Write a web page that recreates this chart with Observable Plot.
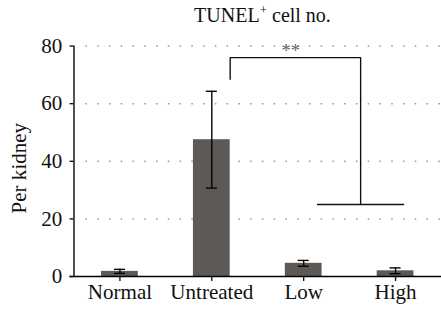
<!DOCTYPE html>
<html><head><meta charset="utf-8">
<script src="https://cdn.jsdelivr.net/npm/d3@7"></script>
<script src="https://cdn.jsdelivr.net/npm/@observablehq/plot@0.6"></script>
<style>
html,body{margin:0;padding:0;overflow:hidden;background:#fff;}
#wrap{position:relative;width:441px;height:317px;overflow:hidden;}
#wrap svg{position:absolute;left:0;top:0;}
#wrap svg text{font-family:"Liberation Serif",serif !important;}
#title{position:absolute;left:75px;width:375px;top:2px;text-align:center;font:20px "Liberation Serif",serif;color:#111;z-index:2;}
#title sup{font-size:13px;}
</style></head><body>
<div id="wrap"><div id="title">TUNEL<sup>+</sup> cell no.</div></div>
<script>
const groups = ["Normal", "Untreated", "Low", "High"];
const means = [1.8, 47.5, 4.6, 2.0];
const errs = [0.7, 16.8, 1.0, 1.0];
const yTicks = [0, 20, 40, 60, 80];
const gridValues = [20, 40, 60, 80];
const yLabel = "Per kidney";
// significance bracket: x in group-index units, y in data units
const bracketPath = [[1.2, 68.5], [1.2, 76], [2.62, 76], [2.62, 25]];
const bracketBase = [[2.15, 3.1, 25]];
const sigLabel = [{x: 1.86, y: 78.3, text: "**"}];

const rows = groups.map((g, i) => ({i, g, m: means[i], e: errs[i]}));
const font = "Liberation Serif";

const chart = Plot.plot({
  width: 450, height: 317,
  marginLeft: 75, marginRight: 0, marginTop: 46.5, marginBottom: 35.3,
  style: {fontFamily: font, fontSize: "21px", color: "#111", background: "transparent"},
  x: {domain: [-0.5, 3.5]},
  y: {domain: [0, 80]},
  marks: [
    Plot.ruleY(gridValues, {x1: -0.37, x2: 3.5, stroke: "#9a9a9a", strokeWidth: 1.6, strokeDasharray: "1.6 10.4"}),
    Plot.rectY(rows, {x1: d => d.i - 0.2, x2: d => d.i + 0.2, y1: 0, y2: "m", fill: "#5d5957"}),
    Plot.ruleX(rows, {x: "i", y1: d => d.m - d.e, y2: d => d.m + d.e, stroke: "#000", strokeWidth: 1.4}),
    Plot.ruleY(rows, {y: d => d.m - d.e, x1: d => d.i - 0.06, x2: d => d.i + 0.06, stroke: "#000", strokeWidth: 1.4}),
    Plot.ruleY(rows, {y: d => d.m + d.e, x1: d => d.i - 0.06, x2: d => d.i + 0.06, stroke: "#000", strokeWidth: 1.4}),
    Plot.line(bracketPath, {x: d => d[0], y: d => d[1], stroke: "#111", strokeWidth: 1.4, strokeLinejoin: "miter"}),
    Plot.ruleY(bracketBase, {x1: d => d[0], x2: d => d[1], y: d => d[2], stroke: "#111", strokeWidth: 1.4}),
    Plot.text(sigLabel, {x: "x", y: "y", text: "text", fill: "#666", fontSize: 19, fontFamily: font}),
    Plot.ruleX([-0.5], {y1: 0, y2: 80, stroke: "#000", strokeWidth: 1.4}),
    Plot.ruleY([0], {x1: -0.545, x2: 3.5, stroke: "#000", strokeWidth: 1.4}),
    Plot.axisY(yTicks, {tickSize: 4, tickPadding: 8, strokeWidth: 1.4, label: null, fontSize: 21.5, fontFamily: font}),
    Plot.axisX([0, 1, 2, 3], {tickFormat: i => groups[i], tickSize: 5, tickPadding: 3, strokeWidth: 1.4, label: null, fontSize: 21.5, fontFamily: font}),
    Plot.text([yLabel], {frameAnchor: "left", textAnchor: "middle", dx: -56, dy: 7, rotate: -90, fontSize: 21.5, fontFamily: font})
  ]
});
document.getElementById("wrap").appendChild(chart);
</script>
</body></html>
